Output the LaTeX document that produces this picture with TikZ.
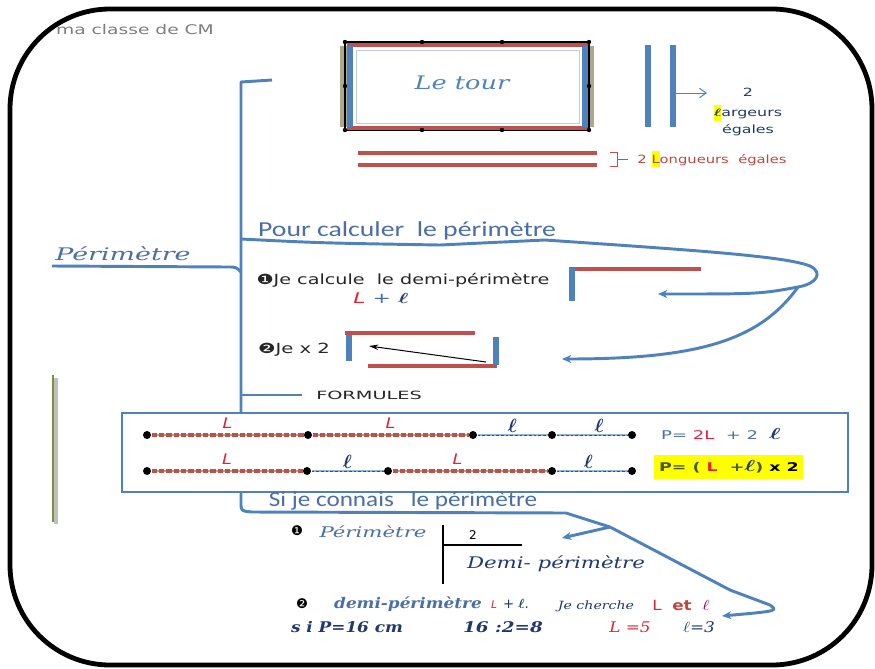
\documentclass[tikz,border=0pt]{standalone}
\usepackage{fontspec}
\usepackage{amsmath}
\usetikzlibrary{arrows.meta}
\newfontfamily\calib{Carlito}
\newfontfamily\dejav{DejaVu Sans}
\newfontfamily\plume{DejaVu Serif}
\definecolor{bleuL}{RGB}{79,129,189}
\definecolor{rougeL}{RGB}{192,80,77}
\definecolor{kaki}{RGB}{172,168,140}
\definecolor{olive}{RGB}{119,147,60}
\definecolor{bleuTxt}{RGB}{74,110,165}
\definecolor{encre}{RGB}{31,56,110}
\definecolor{rougeTxt}{RGB}{225,35,55}
\definecolor{brique}{RGB}{190,70,60}
\definecolor{gris}{RGB}{125,125,125}
\definecolor{surlign}{RGB}{255,255,0}

\tikzset{every picture/.style={line width=0.75pt}}
\tikzset{
  branche/.style={draw=bleuL, line width=2.2pt, line join=round},
  fleche/.style={branche, -{Stealth[length=7pt,width=6pt]}},
  barreB/.style={draw=bleuL, line width=4pt},
  barreR/.style={draw=rougeL, line width=3pt},
  point/.style={circle, fill=black, inner sep=0pt, minimum size=6pt},
  segL/.style={draw=olive!70, line width=0.8pt, postaction={draw=rougeL, line width=2.4pt, dash pattern=on 4pt off 1.5pt}},
  segl/.style={draw=bleuL!60, line width=1pt, postaction={draw=black!70, line width=0.5pt, dash pattern=on 2pt off 1.5pt}},
  etiqL/.style={font=\dejav\itshape\fontsize{11}{13}\selectfont, text=rougeTxt, xscale=1.2},
  etiql/.style={font=\fontsize{14}{16}\selectfont, text=encre},
  txtcal/.style={font=\calib\fontsize{16}{18}\selectfont, text=bleuTxt},
  txtdv/.style={font=\dejav\fontsize{10.5}{12}\selectfont, text=black!85},
  petit/.style={font=\dejav\fontsize{8.5}{10}\selectfont},
  ecrit/.style={font=\plume\itshape\fontsize{11}{13}\selectfont, text=bleuTxt},
}

\begin{document}
\begin{tikzpicture}[x=0.75pt,y=0.75pt,yscale=-1,xscale=1]
\path[use as bounding box] (0,0) rectangle (875,668);

%Shape: Rounded Rectangle
\draw[line width=3.6pt, rounded corners=75pt] (10,9) rectangle (872,665);

% Text Node
\node[font=\dejav\fontsize{10}{12}\selectfont, text=gris, xscale=1.4] (classe) at (135,30) {ma classe de CM};

%Shape: Rectangle -- le tour
\fill[kaki] (340,46) rectangle (347,127);
\fill[kaki] (587,46) rectangle (594,127);
\draw[line width=1pt] (345,42) rectangle (589,130);
\draw[draw=bleuL!40] (356,50) rectangle (579,123);
\draw[barreR] (347,45) -- (588,45);
\draw[barreR] (347,128) -- (588,128);
\draw[barreB] (350,46) -- (350,127);
\draw[barreB] (585,46) -- (585,127);
\foreach \px/\py in {345/42,422/42,502/42,589/42,345/130,422/130,502/130,589/130,345/86,589/86}
  \fill (\px,\py) circle (2.2);
% Text Node
\node[ecrit, text=bleuL, font=\plume\itshape\fontsize{14}{16}\selectfont, xscale=1.37] (tour) at (462,83) {Le tour};

%Straight Lines -- 2 largeurs
\draw[barreB] (648,45) -- (648,127);
\draw[barreB] (673,45) -- (673,127);
\coordinate (larg) at (674,93);
\node[petit, text=encre, xscale=1.4] (deux1) at (748,92) {2};
\node[petit, text=encre, xscale=1.4] (largeurs) at (748,113) {\colorbox{surlign}{\kern-3pt$\boldsymbol{\ell}$\kern-3pt}argeurs};
\node[petit, text=encre, xscale=1.4] (egales1) at (748,130) {égales};
\draw[draw=bleuL, -{Straight Barb[length=5pt,width=7pt]}] (larg) -- (largeurs.west |- larg);

%Straight Lines -- 2 longueurs
\draw[barreR] (358,153) -- (597,153);
\draw[barreR] (358,165) -- (597,165);
\draw[draw=rougeL] (610,152) -- (617,152) -- (617,166) -- (610,166) (617,159) -- (628,159);
\node[petit, text=brique, xscale=1.3] (longueurs) at (712,159) {2 \colorbox{surlign}{\kern-3pt L\kern-3pt}ongueurs\ \ égales};

%Mind map trunk
\coordinate (haut) at (241,82);
\coordinate (crochet) at (272,80);
\coordinate (bas) at (241,503);
\draw[branche] (crochet) -- (haut) -- (bas);

% Perimetre branch
\node[ecrit, font=\plume\itshape\fontsize{13}{15}\selectfont, xscale=1.55] (perim) at (123,254) {Périmètre};
\coordinate (perimG) at (52,266);
\draw[branche] (perimG) -- (228,267) .. controls (236,267) .. (241,272);

% Pour calculer branch
\node[txtcal, xscale=1.3] (calculer) at (407,231) {Pour calculer\ \ le périmètre};
\coordinate (calc0) at (241,239);
\coordinate (noeud1) at (798,287);
\coordinate (flecheA) at (658,294);
\coordinate (flecheB) at (562,359);
\draw[branche] (calc0) .. controls (320,243) .. (440,245) -- (545,240)
  .. controls (690,250) and (785,256) .. (810,266) .. controls (824,273) and (816,284) .. (noeud1);
\draw[fleche] (noeud1) .. controls (760,294) .. (flecheA);
\draw[fleche] (noeud1) .. controls (760,340) and (700,359) .. (flecheB);

% Step 1
\node[txtdv, xscale=1.37] (etape1) at (403,280) {❶Je calcule\ \ le demi-périmètre};
\node[font=\dejav\fontsize{11}{13}\selectfont, xscale=1.5] (somme) at (381,298) {\textcolor{rougeTxt}{\itshape L} \textcolor{bleuTxt}{+} \textcolor{encre}{$\boldsymbol{\ell}$}};
\draw[barreR] (569,269) -- (701,269);
\draw[barreB] (572,268) -- (572,301);

% Step 2
\node[txtdv, xscale=1.4] (etape2) at (294,350) {❷Je x 2};
\draw[barreR] (345,333) -- (475,333);
\draw[barreB] (349,335) -- (349,361);
\draw[barreR] (368,366) -- (497,366);
\draw[barreB] (496,337) -- (496,365);
\coordinate (dbl0) at (486,362);
\coordinate (dbl1) at (369,346);
\draw[-{Stealth[length=7pt,width=4pt,open]}] (dbl0) -- (dbl1);

% Formules branch
\coordinate (form0) at (241,395);
\node[txtdv, font=\dejav\fontsize{8.5}{10}\selectfont, xscale=1.7] (formules) at (369,395) {FORMULES};
\draw[branche] (form0) -- (302,395);

%Shape: Rectangle -- formulas
\draw[draw=bleuL, line width=2.2pt, fill=white] (122,413) rectangle (848,492);
\foreach \n/\px in {1/147,2/308,3/473,4/552,5/632}
  \node[point] (p1\n) at (\px,435) {};
\foreach \n/\px in {1/147,2/307,3/388,4/552,5/632}
  \node[point] (p2\n) at (\px,471) {};
\draw[segL] (p11) -- (p12) node[midway, above=1pt, etiqL] (a11) {L};
\draw[segL] (p12) -- (p13) node[midway, above=1pt, etiqL] (a12) {L};
\draw[segl] (p13) -- (p14) node[midway, above=-2pt, etiql] (a13) {$\boldsymbol{\ell}$};
\draw[segl] (p14) -- (p15) node[pos=0.6, above=-2pt, etiql] (a14) {$\boldsymbol{\ell}$};
\draw[segL] (p21) -- (p22) node[midway, above=1pt, etiqL] (a21) {L};
\draw[segl] (p22) -- (p23) node[midway, above=-2pt, etiql] (a22) {$\boldsymbol{\ell}$};
\draw[segL] (p23) -- (p24) node[pos=0.42, above=1pt, etiqL] (a23) {L};
\draw[segl] (p24) -- (p25) node[pos=0.45, above=-2pt, etiql] (a24) {$\boldsymbol{\ell}$};
% Text Node
\node[font=\dejav\fontsize{9}{11}\selectfont, text=bleuTxt, xscale=1.5] (formP1) at (721,434) {P= \textcolor{rougeTxt}{2L} \ + 2 \ \textcolor{encre}{\fontsize{13}{13}\selectfont$\boldsymbol{\ell}$}};
\fill[surlign] (654,455) rectangle (803,479);
\node[font=\dejav\bfseries\fontsize{9}{11}\selectfont, text=olive!60!black, xscale=1.45] (formP2) at (729,467) {P= ( \textcolor{rougeTxt}{L} \ +\textcolor{encre}{\fontsize{13}{13}\selectfont$\boldsymbol{\ell}$}) \textcolor{black}{x 2}};

%Green bar
\draw[draw=black!25, line width=3pt] (56,378) -- (56,524);
\draw[draw=olive, line width=2pt] (53,375) -- (53,522);

% Si je connais branch
\node[txtcal, xscale=1.18] (connais) at (403,501) {Si je connais\ \ \ le périmètre};
\coordinate (connais1) at (566,513);
\coordinate (noeud2) at (610,527);
\coordinate (flecheC) at (562,538);
\coordinate (coude) at (730,590);
\coordinate (flecheD) at (722,616);
\draw[branche] (bas) .. controls (241,511) .. (252,512) -- (connais1) -- (noeud2);
\draw[fleche] (noeud2) -- (flecheC);
\draw[fleche] (noeud2) -- (coude) -- (770,605) .. controls (778,611) .. (flecheD);

% Bottom part
\node[font=\dejav\fontsize{10}{12}\selectfont] (num1) at (297,531) {❶};
\node[ecrit, xscale=1.45] (perim2) at (373,532) {Périmètre};
\coordinate (divH) at (443,525);
\coordinate (divB) at (443,584);
\coordinate (divD) at (522,545);
\draw[line width=2.2pt] (divH) -- (divB);
\draw[line width=2.2pt] (divD) -- (divH |- divD);
\node[font=\dejav\fontsize{9}{11}\selectfont] (deux2) at (473,535) {2};
\node[ecrit, text=encre, font=\plume\itshape\fontsize{12}{14}\selectfont, xscale=1.33] (demi1) at (556,564) {Demi- périmètre};

\node[font=\dejav\fontsize{10}{12}\selectfont] (num2) at (302,604) {❷};
\node[ecrit, font=\plume\itshape\bfseries\fontsize{11}{13}\selectfont, xscale=1.15] (demi2) at (408,604) {demi-périmètre};
\node[font=\dejav\itshape\fontsize{8}{10}\selectfont, text=rougeTxt] (demiL) at (494,605) {L};
\node[font=\dejav\fontsize{10}{12}\selectfont, text=encre] (demil) at (516,604) {+ $\boldsymbol{\ell}$.};
\node[ecrit, text=encre, font=\plume\itshape\fontsize{8.5}{10}\selectfont, xscale=1.25] (cherche) at (596,606) {Je cherche};
\node[font=\dejav\fontsize{10.5}{12}\selectfont, xscale=1.2] (inconnues) at (681,605) {\textcolor{rougeTxt}{L}\ \ \textcolor{brique}{\bfseries et}\ \ \textcolor{violet}{$\ell$}};
\node[ecrit, text=encre, font=\plume\itshape\bfseries\fontsize{11}{13}\selectfont, xscale=1.15] (si) at (347,627) {s i P=16 cm};
\node[ecrit, text=encre, font=\plume\itshape\bfseries\fontsize{11}{13}\selectfont, xscale=1.25] (calcul) at (503,627) {16 :2=8};
\node[ecrit, text=rougeTxt, font=\plume\itshape\fontsize{11}{13}\selectfont, xscale=1.15] (resL) at (630,627) {L =5};
\node[ecrit, text=encre, font=\plume\itshape\fontsize{11}{13}\selectfont, xscale=1.15] (resl) at (699,627) {$\ell$=3};

\end{tikzpicture}
\end{document}
